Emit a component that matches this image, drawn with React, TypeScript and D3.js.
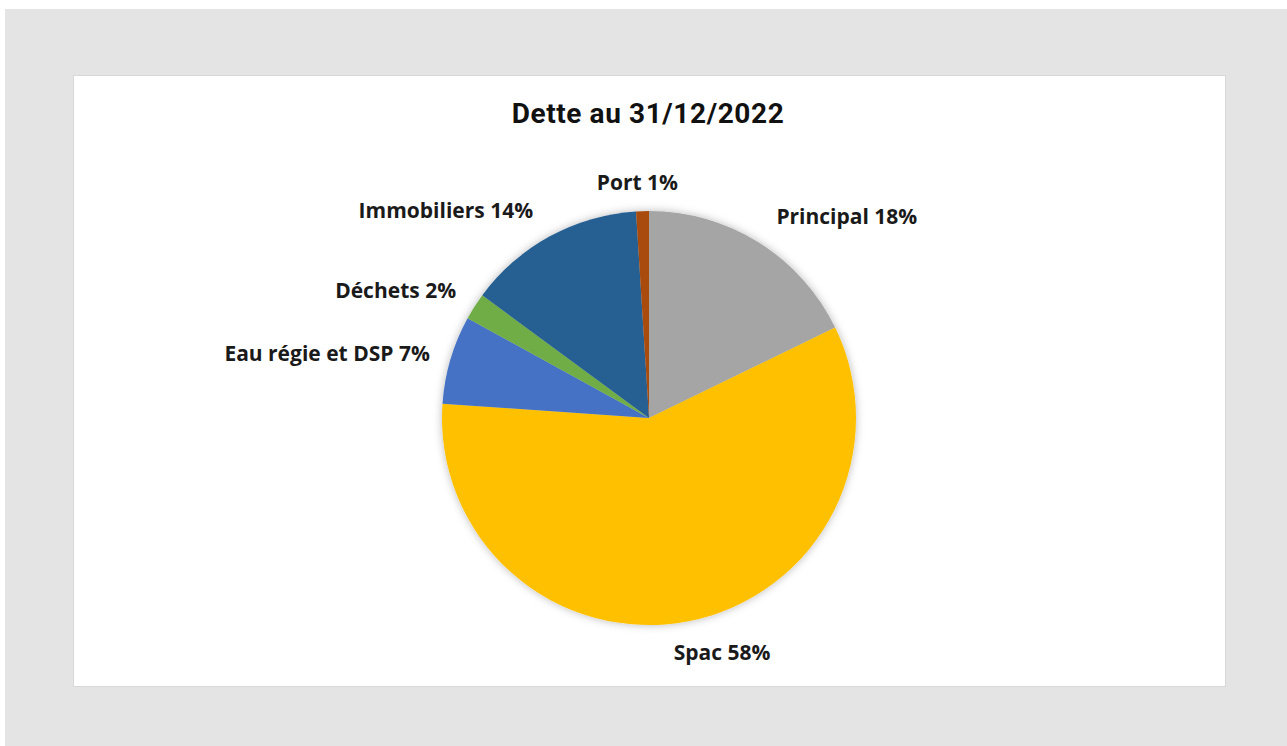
import React from "react";
import * as d3 from "d3";

const title = "Dette au 31/12/2022";
const categories = ["Principal", "Spac", "Eau régie et DSP", "Déchets", "Immobiliers", "Port"];
const values = [17.8, 58.3, 6.9, 2.1, 13.9, 1.0];
const colors = ["#a5a5a5", "#ffc000", "#4472c4", "#70ad47", "#255e91", "#a84c10"];
const labelNudges: [number, number][] = [[-1, 4], [27, -3], [13, 4], [11, 3], [0, 5], [-4, 7]];

const W = 1287;
const H = 746;

export default function App() {
  const cx = 649;
  const cy = 418;
  const r = 207;
  const total = d3.sum(values);
  const pie = d3.pie<number>().sort(null).value((d) => d);
  const arcs = pie(values);
  const arc = d3.arc<d3.PieArcDatum<number>>().innerRadius(0).outerRadius(r);
  const labelR = r + 35;

  return (
    <svg width={W} height={H} style={{ position: "absolute", left: 0, top: 0 }}>
      <defs>
        <filter id="sh" x="-20%" y="-20%" width="140%" height="140%">
          <feDropShadow dx="0" dy="0" stdDeviation="4" floodColor="#000" floodOpacity="0.28" />
        </filter>
      </defs>
      <rect x={0} y={0} width={W} height={H} fill="#ffffff" />
      <rect x={5} y={9} width={W - 5} height={H - 9} fill="#e4e4e4" />
      <rect x={73.5} y={75.5} width={1152} height={611} fill="#ffffff" stroke="#d8d8d8" strokeWidth={1} />
      <text
        x={648}
        y={123}
        textAnchor="middle"
        fontFamily="Roboto, 'DejaVu Sans', sans-serif"
        fontWeight={700}
        fontSize={28}
        letterSpacing={0.6}
        fill="#111"
      >
        {title}
      </text>
      <g transform={`translate(${cx},${cy})`} filter="url(#sh)">
        {arcs.map((a, i) => (
          <path key={i} d={arc(a) || ""} fill={colors[i]} />
        ))}
      </g>
      {arcs.map((a, i) => {
        const mid = (a.startAngle + a.endAngle) / 2;
        const s = Math.sin(mid);
        const x = cx + labelR * s + labelNudges[i][0];
        const y = cy - labelR * Math.cos(mid) + labelNudges[i][1];
        const anchor = Math.abs(s) < 0.3 ? "middle" : s > 0 ? "start" : "end";
        const pct = Math.round((values[i] / total) * 100);
        return (
          <text
            key={i}
            x={x}
            y={y + 7}
            textAnchor={anchor}
            fontFamily="'Open Sans', Lato, sans-serif"
            fontWeight={700}
            fontSize={21}
            fill="#1a1a1a"
          >
            {`${categories[i]} ${pct}%`}
          </text>
        );
      })}
    </svg>
  );
}
